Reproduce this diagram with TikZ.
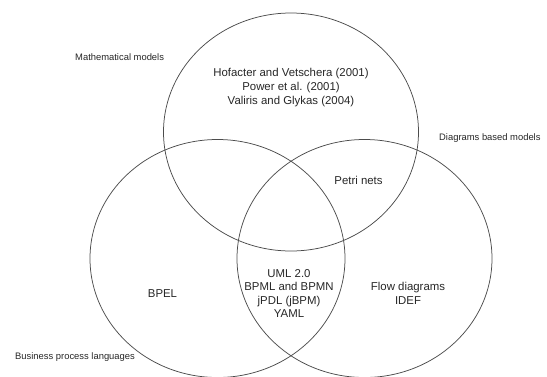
\documentclass[tikz,border=0pt]{standalone}
\usepackage{fontspec}
\setmainfont{Liberation Sans}
\begin{document}
\begin{tikzpicture}[x=1pt,y=-1pt,
  setring/.style={draw=black!70,line width=0.75pt},
  member/.style={inner sep=0pt,align=center,text=black!85,font=\fontsize{11.4}{13.6}\selectfont},
  setname/.style={inner sep=0pt,anchor=west,text=black!85,font=\fontsize{9.4}{11}\selectfont}]
\useasboundingbox (0,0) rectangle (547,376);
\clip (0,0) rectangle (547,376);

% the three sets
\draw[setring] (291,132) ellipse [x radius=127.5, y radius=119];
\draw[setring] (217.5,258.5) ellipse [x radius=127.5, y radius=119];
\draw[setring] (364.5,258.5) ellipse [x radius=127.5, y radius=119];

% set names
\node[setname] (math) at (75,57.5) {Mathematical models};
\node[setname] (diag) at (439,138.5) {Diagrams based models};
\node[setname] (bpl) at (15,357) {Business process languages};

% members
\node[member] (m) at (291,87.5) {Hofacter and Vetschera (2001)\\Power et al. (2001)\\Valiris and Glykas (2004)};
\node[member] (pn) at (358.5,180) {Petri nets};
\node[member] (core) at (289,293.5) {UML 2.0\\BPML and BPMN\\jPDL (jBPM)\\YAML};
\node[member] (bpel) at (162.5,294) {BPEL};
\node[member] (flow) at (408,293.5) {Flow diagrams\\IDEF};
\end{tikzpicture}
\end{document}
